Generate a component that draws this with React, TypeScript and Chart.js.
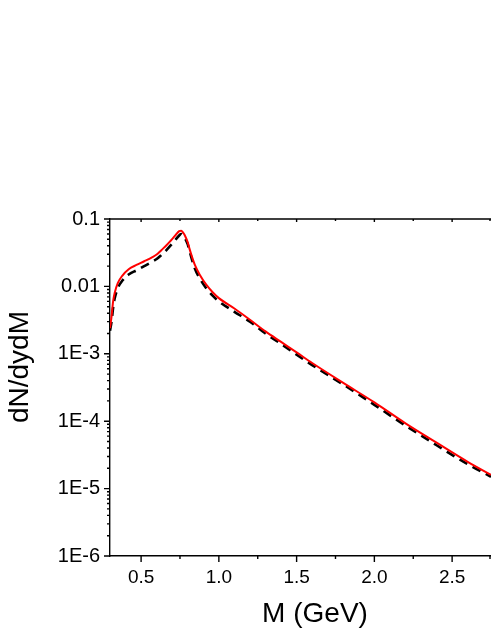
import Chart from 'chart.js/auto';
import { useRef, useEffect } from 'react';

// invariant mass (GeV)
const mass = [0.30, 0.31, 0.32, 0.33, 0.35, 0.38, 0.42, 0.47, 0.52, 0.57, 0.60, 0.63, 0.66, 0.69, 0.72, 0.745, 0.758, 0.77, 0.78, 0.80, 0.81, 0.845, 0.88, 0.92, 0.96, 1.00, 1.10, 1.20, 1.30, 1.40, 1.50, 1.60, 1.80, 2.00, 2.20, 2.40, 2.60, 2.75];

// red solid curve
const redVals = [0.0024, 0.0036, 0.0060, 0.0080, 0.0112, 0.0145, 0.0180, 0.0208, 0.0236, 0.0270, 0.0297, 0.0345, 0.0400, 0.0475, 0.0570, 0.0660, 0.0670, 0.0630, 0.0580, 0.0450, 0.0370, 0.0210, 0.0145, 0.0105, 0.0082, 0.0067, 0.0047, 0.0032, 0.00215, 0.00150, 0.00105, 0.00073, 0.00037, 0.00019, 0.000093, 0.000048, 0.000025, 0.000016];

// black dashed curve
const blackVals = [0.0022, 0.0030, 0.0048, 0.0066, 0.0094, 0.0122, 0.0150, 0.0173, 0.0200, 0.0232, 0.0255, 0.0292, 0.0340, 0.0405, 0.0490, 0.0570, 0.0600, 0.0570, 0.0530, 0.0420, 0.0345, 0.0185, 0.0128, 0.0093, 0.0073, 0.0060, 0.0042, 0.0030, 0.00200, 0.00140, 0.00097, 0.00068, 0.00035, 0.000175, 0.000086, 0.000044, 0.000023, 0.000015];

const xMajor = [0.5, 1.0, 1.5, 2.0, 2.5];
const xMinor = [0.75, 1.25, 1.75, 2.25, 2.75];
const xLabels = ['0.5', '1.0', '1.5', '2.0', '2.5'];

const yDecades = [1e-6, 1e-5, 1e-4, 1e-3, 0.01, 0.1];
const yLabels = ['1E-6', '1E-5', '1E-4', '1E-3', '0.01', '0.1'];

const FONT = '"Liberation Sans", Arial, sans-serif';

const axisDeco = {
  id: 'axisDeco',
  afterDraw(chart: any) {
    const { ctx, chartArea } = chart;
    const xs = chart.scales.x;
    const ys = chart.scales.y;
    ctx.save();
    ctx.strokeStyle = '#000';
    ctx.lineWidth = 1.4;
    ctx.beginPath();
    // top frame line
    ctx.moveTo(chartArea.left, chartArea.top);
    ctx.lineTo(chartArea.right, chartArea.top);
    // x ticks (bottom outward, top inward)
    for (const v of xMajor) {
      const px = xs.getPixelForValue(v);
      ctx.moveTo(px, chartArea.bottom);
      ctx.lineTo(px, chartArea.bottom + 6);
      ctx.moveTo(px, chartArea.top);
      ctx.lineTo(px, chartArea.top + 3);
    }
    for (const v of xMinor) {
      const px = Math.min(xs.getPixelForValue(v), chartArea.right - 1);
      ctx.moveTo(px, chartArea.bottom);
      ctx.lineTo(px, chartArea.bottom + 3);
      ctx.moveTo(px, chartArea.top);
      ctx.lineTo(px, chartArea.top + 2);
    }
    // y ticks (outward, log minors)
    for (const d of yDecades) {
      const py = ys.getPixelForValue(d);
      ctx.moveTo(chartArea.left, py);
      ctx.lineTo(chartArea.left - 6, py);
      if (d < 0.1) {
        for (let m = 2; m <= 9; m++) {
          const my = ys.getPixelForValue(d * m);
          ctx.moveTo(chartArea.left, my);
          ctx.lineTo(chartArea.left - 3, my);
        }
      }
    }
    ctx.stroke();

    // axis titles
    ctx.fillStyle = '#000';
    ctx.font = `28px ${FONT}`;
    ctx.textAlign = 'center';
    ctx.textBaseline = 'alphabetic';
    ctx.fillText('M (GeV)', 315, 622);
    ctx.translate(28, 367);
    ctx.rotate(-Math.PI / 2);
    ctx.fillText('dN/dydM', 0, 0);
    ctx.restore();
  },
};

const App = () => {
  const ref = useRef<HTMLCanvasElement>(null);
  const chart = useRef<Chart>();

  useEffect(() => {
    if (ref.current) {
      chart.current = new Chart(ref.current, {
        type: 'line',
        data: {
          datasets: [
            {
              data: mass.map((m, i) => ({ x: m, y: redVals[i] })),
              borderColor: '#ff0000',
              borderWidth: 2,
              pointRadius: 0,
              cubicInterpolationMode: 'monotone',
            },
            {
              data: mass.map((m, i) => ({ x: m, y: blackVals[i] })),
              borderColor: '#000000',
              borderWidth: 2.6,
              borderDash: [9, 6],
              pointRadius: 0,
              cubicInterpolationMode: 'monotone',
            },
          ],
        },
        options: {
          responsive: false,
          animation: false,
          layout: { padding: { top: 219, left: 0, right: 0, bottom: 0 } },
          plugins: {
            legend: { display: false },
            tooltip: { enabled: false },
          },
          scales: {
            x: {
              type: 'linear',
              min: 0.3,
              max: 2.75,
              grid: { display: false, drawTicks: false },
              border: { display: true, color: '#000', width: 1.4 },
              afterFit: (s: any) => { s.height = 79; },
              afterBuildTicks: (s: any) => { s.ticks = xMajor.map((v) => ({ value: v })); },
              ticks: {
                padding: 10,
                color: '#000',
                font: { family: FONT, size: 19 },
                maxRotation: 0,
                autoSkip: false,
                callback: (v: any) => {
                  const i = xMajor.findIndex((t) => Math.abs(t - v) < 1e-6);
                  return i >= 0 ? xLabels[i] : '';
                },
              },
            },
            y: {
              type: 'logarithmic',
              min: 1e-6,
              max: 0.1,
              grid: { display: false, drawTicks: false },
              border: { display: true, color: '#000', width: 1.4 },
              afterFit: (s: any) => { s.width = 110; },
              afterBuildTicks: (s: any) => { s.ticks = yDecades.map((v) => ({ value: v })); },
              ticks: {
                padding: 10,
                color: '#000',
                font: { family: FONT, size: 20 },
                autoSkip: false,
                callback: (v: any) => {
                  const i = yDecades.findIndex((t) => Math.abs(Math.log10(t) - Math.log10(v)) < 1e-6);
                  return i >= 0 ? yLabels[i] : '';
                },
              },
            },
          },
        },
        plugins: [axisDeco],
      });
    }

    return () => {
      if (chart.current) {
        chart.current.destroy();
      }
    };
  }, []);

  return (
    <div style={{ position: 'absolute', left: 0, top: 0, width: 491, height: 635, background: '#fff' }}>
      <canvas ref={ref} width={491} height={635}></canvas>
    </div>
  );
};

export default App;
